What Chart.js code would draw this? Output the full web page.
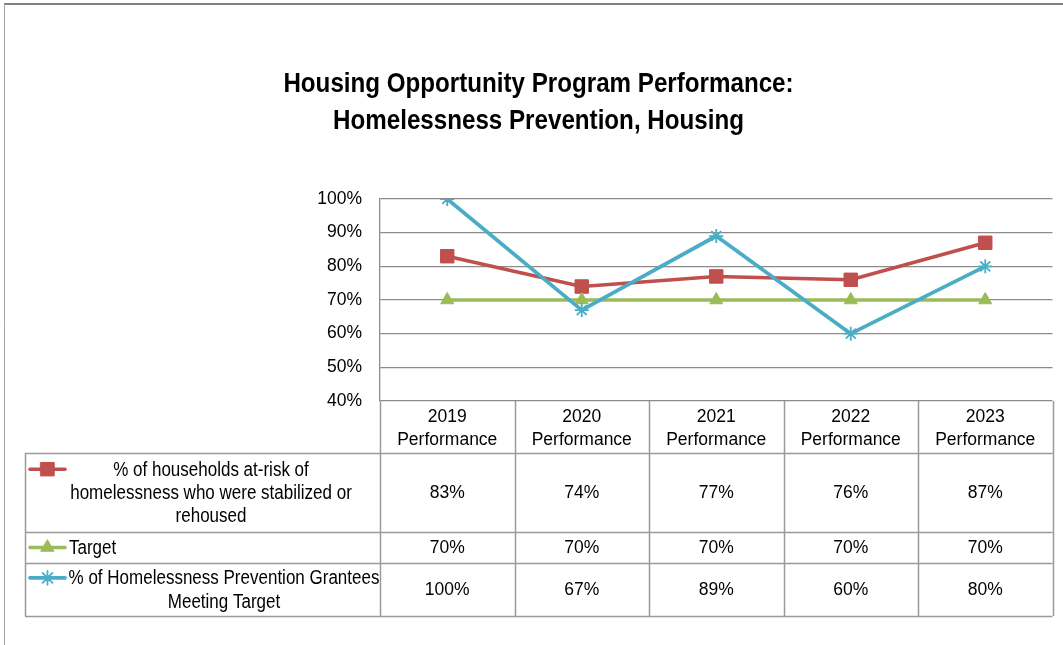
<!DOCTYPE html>
<html>
<head>
<meta charset="utf-8">
<title>Housing Opportunity Program Performance</title>
<script src="https://cdn.jsdelivr.net/npm/chart.js@4.4.1/dist/chart.umd.min.js"></script>
<style>
  html, body { margin: 0; padding: 0; background: #ffffff; }
  #wrap { position: relative; width: 1063px; height: 645px; }
  canvas { display: block; }
</style>
</head>
<body>
<div id="wrap"><canvas id="chart" width="1063" height="645"></canvas></div>
<script>
// Reporting years shown along the table header
const years = ['2019', '2020', '2021', '2022', '2023'];
const columnSuffix = 'Performance';

// Series values (percent)
const stabilizedPct = [83, 74, 77, 76, 87];
const targetPct = [70, 70, 70, 70, 70];
const granteesPct = [100, 67, 89, 60, 80];

// Value axis range and step
const yMin = 40;
const yMax = 100;
const yStep = 10;

// Series names, as wrapped in the data table
const stabilizedName = ['% of households at-risk of', 'homelessness who were stabilized or', 'rehoused'];
const targetName = ['Target'];
const granteesName = ['% of Homelessness Prevention Grantees', 'Meeting Target'];

const titleLines = ['Housing Opportunity Program Performance:', 'Homelessness Prevention, Housing'];

const RED = '#C0504D';
const GREEN = '#9BBB59';
const BLUE = '#4BACC6';
const GRID = '#8c8c8c';
const TABLE_LINE = '#9a9a9a';

const SANS = '"Liberation Sans", Arial, sans-serif';

// Draws text squeezed horizontally, giving a condensed face
function condensedText(ctx, text, x, y, squeeze, align) {
  ctx.save();
  ctx.translate(x, y);
  ctx.scale(squeeze, 1);
  ctx.textAlign = align;
  ctx.fillText(text, 0, 0);
  ctx.restore();
}

const datasets = [
  {
    label: stabilizedName.join(' '),
    rows: stabilizedName,
    data: stabilizedPct,
    borderColor: RED,
    backgroundColor: RED,
    borderWidth: 3.5,
    pointStyle: 'rect',
    pointRadius: 9.5,
    pointBorderWidth: 1,
    pointBorderColor: RED,
    pointBackgroundColor: RED,
    order: 2
  },
  {
    label: targetName.join(' '),
    rows: targetName,
    data: targetPct,
    borderColor: GREEN,
    backgroundColor: GREEN,
    borderWidth: 3.5,
    pointStyle: 'triangle',
    pointRadius: 7.5,
    pointBorderWidth: 1,
    pointBorderColor: GREEN,
    pointBackgroundColor: GREEN,
    order: 1
  },
  {
    label: granteesName.join(' '),
    rows: granteesName,
    data: granteesPct,
    borderColor: BLUE,
    backgroundColor: BLUE,
    borderWidth: 3.8,
    pointStyle: 'star',
    pointRadius: 7,
    pointBorderWidth: 1.8,
    pointBorderColor: BLUE,
    pointBackgroundColor: BLUE,
    order: 0
  }
];

// Page frame (top and left edges) and the two-line heading
const framePlugin = {
  id: 'frame',
  beforeDraw(chart) {
    const ctx = chart.ctx;
    ctx.save();
    ctx.fillStyle = '#ffffff';
    ctx.fillRect(0, 0, chart.width, chart.height);
    ctx.strokeStyle = '#808080';
    ctx.lineWidth = 2;
    ctx.beginPath();
    ctx.moveTo(4, 4);
    ctx.lineTo(chart.width, 4);
    ctx.stroke();
    ctx.strokeStyle = '#a6a6a6';
    ctx.lineWidth = 1;
    ctx.beginPath();
    ctx.moveTo(4.5, 4);
    ctx.lineTo(4.5, chart.height);
    ctx.stroke();

    ctx.fillStyle = '#000000';
    ctx.textBaseline = 'middle';
    ctx.font = 'bold 28px ' + SANS;
    condensedText(ctx, titleLines[0], 538.5, 84, 0.863, 'center');
    condensedText(ctx, titleLines[1], 538.5, 121, 0.863, 'center');
    ctx.restore();
  }
};

// Data table under the plot: year headers, legend keys and values
const tablePlugin = {
  id: 'dataTable',
  afterDraw(chart) {
    const ctx = chart.ctx;
    const area = chart.chartArea;
    const x = chart.scales.x;
    const step = x.getPixelForValue(1) - x.getPixelForValue(0);
    const colLeft = i => x.getPixelForValue(i) - step / 2;
    const n = years.length;
    const tableLeft = 25;
    const tableRight = colLeft(n);
    const headerBottom = 453;
    const rowBottoms = [532, 563, 616];
    const rowTops = [headerBottom, rowBottoms[0], rowBottoms[1]];

    ctx.save();
    ctx.strokeStyle = TABLE_LINE;
    ctx.lineWidth = 1.5;
    ctx.beginPath();
    for (let i = 0; i <= n; i++) {
      const cx = Math.round(colLeft(i)) + 0.5;
      ctx.moveTo(cx, area.bottom);
      ctx.lineTo(cx, rowBottoms[2]);
    }
    [headerBottom].concat(rowBottoms).forEach(y => {
      ctx.moveTo(tableLeft, y + 0.5);
      ctx.lineTo(tableRight, y + 0.5);
    });
    ctx.moveTo(tableLeft + 0.5, headerBottom);
    ctx.lineTo(tableLeft + 0.5, rowBottoms[2]);
    ctx.stroke();

    // header cells
    ctx.fillStyle = '#000000';
    ctx.textAlign = 'center';
    ctx.textBaseline = 'middle';
    ctx.font = '17.5px ' + SANS;
    years.forEach((yr, i) => {
      const cx = x.getPixelForValue(i);
      ctx.fillText(yr, cx, 417);
      ctx.fillText(columnSuffix, cx, 440);
    });

    // value cells and legend keys
    const textCenters = [211, null, 224];
    chart.data.datasets.forEach((ds, r) => {
      const top = rowTops[r];
      const bottom = rowBottoms[r];
      const mid = (top + bottom) / 2 + 1;
      ctx.fillStyle = '#000000';
      ctx.font = '17.5px ' + SANS;
      ctx.textAlign = 'center';
      ds.data.forEach((v, i) => {
        ctx.fillText(v + '%', x.getPixelForValue(i), mid);
      });

      const lineH = 23.3;
      const firstY = mid - (ds.rows.length - 1) * lineH / 2;
      ctx.font = '20px ' + SANS;
      ds.rows.forEach((t, k) => {
        if (textCenters[r] === null) {
          condensedText(ctx, t, 69, firstY + k * lineH, 0.85, 'left');
        } else {
          condensedText(ctx, t, textCenters[r], firstY + k * lineH, 0.85, 'center');
        }
      });

      // legend key: short line with the series marker
      const ky = firstY - 1;
      ctx.strokeStyle = ds.borderColor;
      ctx.lineWidth = ds.borderWidth;
      ctx.lineCap = 'round';
      ctx.beginPath();
      ctx.moveTo(30, ky);
      ctx.lineTo(65, ky);
      ctx.stroke();
      ctx.fillStyle = ds.pointBackgroundColor;
      ctx.strokeStyle = ds.pointBorderColor;
      ctx.lineWidth = ds.pointBorderWidth;
      Chart.helpers.drawPoint(ctx, {
        pointStyle: ds.pointStyle,
        radius: ds.pointRadius,
        rotation: 0,
        borderWidth: ds.pointBorderWidth
      }, 47.5, ky);
    });
    ctx.restore();
  }
};

new Chart(document.getElementById('chart'), {
  type: 'line',
  data: {
    labels: years.map(y => y + ' ' + columnSuffix),
    datasets: datasets
  },
  options: {
    responsive: false,
    animation: false,
    devicePixelRatio: 1,
    layout: { padding: { left: 20, right: 4, top: 199, bottom: 244 } },
    plugins: {
      legend: { display: false },
      tooltip: { enabled: false },
      title: { display: false }
    },
    elements: {
      line: { tension: 0, fill: false, borderCapStyle: 'round', borderJoinStyle: 'round' }
    },
    scales: {
      x: {
        type: 'category',
        offset: true,
        display: false
      },
      y: {
        min: yMin,
        max: yMax,
        afterFit(scale) { scale.width = 360; },
        ticks: {
          stepSize: yStep,
          padding: 18,
          color: '#000000',
          font: { family: SANS, size: 17.5 },
          callback: v => v + '%'
        },
        grid: { color: GRID, lineWidth: 1.3, drawTicks: false },
        border: { display: true, color: GRID, width: 1.3 }
      }
    }
  },
  plugins: [framePlugin, tablePlugin]
});
</script>
</body>
</html>
